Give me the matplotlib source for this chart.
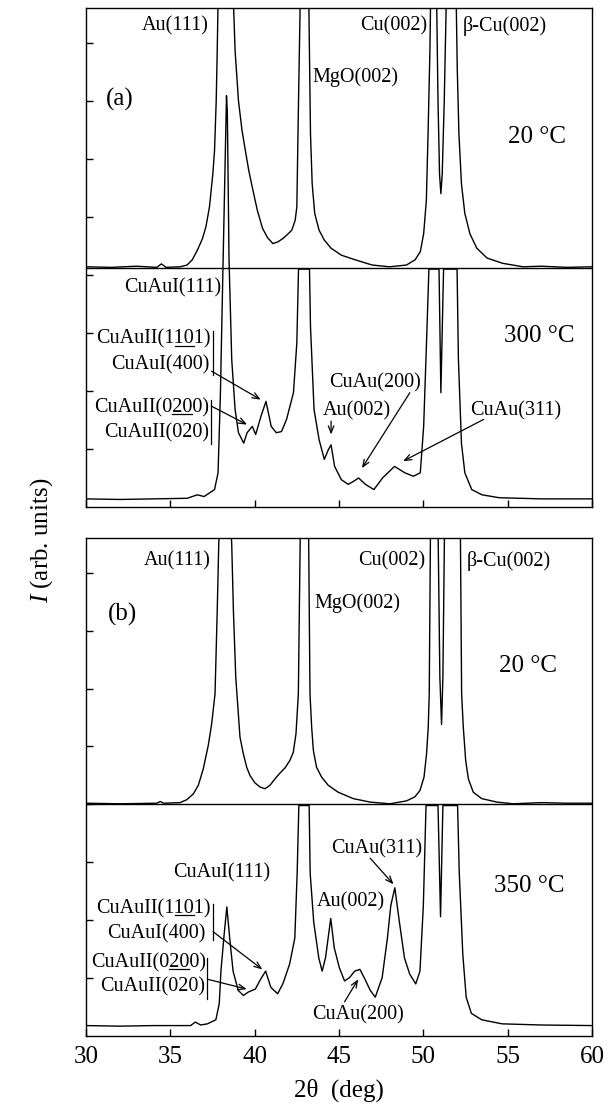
import numpy as np
import matplotlib
matplotlib.use('Agg')
import matplotlib.pyplot as plt
from matplotlib.textpath import TextToPath
from matplotlib.font_manager import FontProperties

# --- data (2theta in deg, intensity in tick units) ---
ang_a20 = [30.0, 31.5, 33.0, 34.2, 34.47, 34.75, 35.59, 35.99, 36.3, 36.61, 36.91, 37.11, 37.32, 37.52, 37.62,
           37.72, 37.78, 37.83, 38.0, 38.3, 38.6, 38.74, 38.84, 39.04, 39.25, 39.45, 39.65, 39.86, 40.16, 40.47,
           40.77, 41.08, 41.38, 41.69, 41.99, 42.2, 42.4, 42.5, 42.6, 42.7, 42.95, 43.21, 43.31, 43.41, 43.56,
           43.82, 44.13, 44.53, 45.14, 45.96, 46.97, 47.99, 49.0, 49.51, 49.82, 50.02, 50.18, 50.28, 50.39, 50.43,
           50.6, 50.79, 50.87, 50.96, 51.04, 51.12, 51.24, 51.36, 51.7, 51.95, 52.01, 52.11, 52.26, 52.46, 52.76,
           53.17, 53.78, 54.7, 55.91, 57.0, 58.5, 60.0]
int_a20 = [0.14, 0.13, 0.15, 0.13, 0.19, 0.13, 0.14, 0.17, 0.26, 0.43, 0.63, 0.83, 1.17, 1.74, 2.14,
           3.0, 3.86, 4.71, 6.5, 7.5, 6.0, 4.71, 3.86, 3.0, 2.49, 2.14, 1.80, 1.51, 1.11, 0.80,
           0.64, 0.54, 0.57, 0.63, 0.71, 0.77, 0.94, 1.17, 3.0, 4.71, 7.0, 4.71, 2.43, 1.57, 1.06,
           0.77, 0.60, 0.46, 0.34, 0.26, 0.17, 0.14, 0.17, 0.26, 0.40, 0.71, 1.29, 2.43, 3.86, 4.71,
           6.5, 4.71, 3.0, 1.74, 1.40, 1.74, 3.0, 4.71, 6.5, 4.71, 3.57, 2.43, 1.57, 1.06, 0.71,
           0.46, 0.29, 0.20, 0.14, 0.15, 0.13, 0.14]

ang_a300 = [30.0, 32.0, 34.0, 36.0, 36.6, 37.0, 37.62, 37.83, 37.97, 38.13, 38.33, 38.38, 38.48, 38.64, 38.84,
            39.04, 39.35, 39.55, 39.86, 40.06, 40.37, 40.67, 40.98, 41.28, 41.59, 41.89, 42.3, 42.5, 42.6, 43.25,
            43.31, 43.52, 43.82, 44.13, 44.37, 44.53, 44.74, 45.14, 45.55, 45.85, 46.16, 46.57, 47.07, 47.58, 48.29,
            48.9, 49.41, 49.82, 50.02, 50.22, 50.33, 50.93, 51.04, 51.2, 52.0, 52.08, 52.26, 52.46, 52.87, 53.48,
            54.5, 57.0, 60.0]
int_a300 = [0.14, 0.13, 0.14, 0.15, 0.21, 0.18, 0.30, 0.59, 1.97, 4.26, 7.09, 6.8, 4.26, 2.54, 1.68,
            1.28, 1.10, 1.28, 1.39, 1.25, 1.56, 1.82, 1.39, 1.28, 1.30, 1.51, 1.97, 2.83, 4.10, 4.10,
            3.11, 1.68, 1.16, 0.82, 0.99, 1.07, 0.70, 0.47, 0.39, 0.44, 0.50, 0.39, 0.30, 0.50, 0.70,
            0.59, 0.53, 0.59, 1.39, 3.11, 4.10, 4.10, 1.97, 4.10, 4.10, 2.54, 1.10, 0.59, 0.30, 0.21,
            0.16, 0.14, 0.14]

ang_b20 = [30.0, 32.0, 34.2, 34.4, 34.6, 35.57, 35.97, 36.36, 36.66, 36.95, 37.25, 37.45, 37.65, 37.78, 37.87,
           38.1, 38.4, 38.64, 38.74, 38.88, 39.13, 39.33, 39.53, 39.72, 40.02, 40.32, 40.61, 40.91, 41.2, 41.5,
           41.8, 42.09, 42.29, 42.45, 42.59, 42.7, 42.95, 43.2, 43.28, 43.38, 43.48, 43.67, 43.97, 44.36, 44.95,
           45.84, 46.83, 48.02, 49.0, 49.5, 49.8, 50.04, 50.19, 50.29, 50.35, 50.42, 50.6, 50.88, 50.98, 51.08,
           51.16, 51.25, 51.7, 52.2, 52.27, 52.37, 52.51, 52.67, 52.96, 53.46, 54.35, 55.33, 57.0, 58.5, 60.0]
int_b20 = [0.02, 0.01, 0.02, 0.05, 0.02, 0.03, 0.08, 0.18, 0.33, 0.61, 1.02, 1.39, 1.91, 3.34, 4.49,
           6.0, 6.0, 4.49, 3.34, 2.19, 1.16, 0.87, 0.64, 0.50, 0.37, 0.30, 0.27, 0.33, 0.44, 0.54,
           0.63, 0.76, 0.90, 1.22, 1.91, 4.6, 6.0, 4.6, 1.91, 1.33, 0.93, 0.64, 0.47, 0.33, 0.21,
           0.10, 0.04, 0.01, 0.06, 0.13, 0.24, 0.47, 0.87, 1.33, 1.91, 4.6, 6.0, 4.6, 2.2, 1.38,
           2.2, 4.6, 6.0, 4.6, 1.91, 1.33, 0.76, 0.44, 0.21, 0.10, 0.04, 0.01, 0.03, 0.02, 0.02]

ang_b350 = [30.0, 32.0, 34.0, 36.2, 36.48, 36.8, 37.2, 37.7, 37.9, 38.0, 38.17, 38.35, 38.52, 38.72, 39.02,
            39.33, 39.63, 40.04, 40.35, 40.65, 40.96, 41.36, 41.67, 42.07, 42.38, 42.52, 42.62, 43.23, 43.29, 43.5,
            43.8, 44.0, 44.2, 44.51, 44.72, 45.02, 45.33, 45.63, 45.93, 46.24, 46.54, 46.85, 47.15, 47.56, 47.87,
            48.07, 48.31, 48.58, 48.88, 49.19, 49.55, 49.8, 50.0, 50.16, 50.87, 51.02, 51.16, 52.03, 52.13, 52.34,
            52.54, 52.85, 53.46, 54.67, 57.0, 60.0]
int_b350 = [0.18, 0.17, 0.18, 0.18, 0.24, 0.19, 0.21, 0.28, 0.56, 1.12, 1.69, 2.23, 1.69, 1.12, 0.79,
            0.70, 0.76, 0.81, 0.98, 1.12, 0.84, 0.73, 0.90, 1.24, 1.69, 2.82, 3.98, 3.98, 2.82, 1.97,
            1.35, 1.12, 1.35, 2.03, 1.52, 1.18, 0.95, 1.01, 1.12, 1.15, 0.98, 0.79, 0.67, 1.01, 1.69,
            2.25, 2.56, 1.97, 1.35, 1.07, 0.90, 1.12, 2.25, 3.98, 3.98, 2.06, 3.98, 3.98, 2.82, 1.41,
            0.67, 0.39, 0.28, 0.21, 0.19, 0.18]

x_ticks = [30, 35, 40, 45, 50, 55, 60]

plt.rcParams['font.family'] = ['Liberation Serif', 'DejaVu Serif']
plt.rcParams['mathtext.fontset'] = 'custom'
plt.rcParams['mathtext.rm'] = 'Liberation Serif'
plt.rcParams['mathtext.it'] = 'Liberation Serif:italic'

FS = 14.5   # peak labels
FL = 18     # big labels
OFFSET = 4.0

fig = plt.figure(figsize=(6.16, 11.10), dpi=100)
ax_a = fig.add_axes([86/616, 1 - 507/1110, 506/616, 499/1110])
ax_b = fig.add_axes([86/616, 1 - 1036/1110, 506/616, 498/1110])

for ax in (ax_a, ax_b):
    ax.set_xlim(30, 60)
    ax.set_ylim(0, 8.6)
    ax.set_xticks(x_ticks)
    ax.set_yticks(range(1, 9))
    ax.set_yticklabels([])
    ax.tick_params(direction='in', length=5, width=1, labelsize=FL, pad=7)
    for sp in ax.spines.values():
        sp.set_linewidth(1)
ax_a.set_xticklabels([])

ax_a.plot(ang_a20, np.array(int_a20) + OFFSET, color='k', lw=1)
ax_a.plot(ang_a300, int_a300, color='k', lw=1)
ax_a.axhline(4.12, color='k', lw=1)

ax_b.plot(ang_b20, np.array(int_b20) + OFFSET, color='k', lw=1)
ax_b.plot(ang_b350, int_b350, color='k', lw=1)
ax_b.axhline(4.0, color='k', lw=1)

ttp = TextToPath()
prop = FontProperties(family=plt.rcParams['font.family'], size=FS)


def text_w(t):
    w, h, d = ttp.get_text_width_height_descent(t, prop, ismath=False)
    return w * fig.dpi / 72


def label(ax, x, y, s, ha='left', size=FS):
    ax.text(x, y, s, ha=ha, va='center', fontsize=size)


def underlined(ax, x, y, s, i0, i1, ha):
    # text with part of the indices underlined
    label(ax, x, y, s, ha)
    x0, y0 = ax.transData.transform((x, y))
    left = x0 if ha == 'left' else x0 - text_w(s)
    u0 = left + text_w(s[:i0])
    u1 = left + text_w(s[:i1])
    yu = y0 - 0.32 * FS * fig.dpi / 72
    inv = ax.transData.inverted()
    p0 = inv.transform((u0, yu))
    p1 = inv.transform((u1, yu))
    ax.plot([p0[0], p1[0]], [p0[1], p1[1]], color='k', lw=0.9)


def arrow(ax, tail, tip):
    ax.annotate('', xy=tip, xytext=tail,
                arrowprops=dict(arrowstyle='->,head_length=0.5,head_width=0.2',
                                lw=0.9, color='k', shrinkA=0, shrinkB=0))


def bar(ax, x, y0, y1):
    ax.plot([x, x], [y0, y1], color='k', lw=0.9)


# panel (a)
label(ax_a, 37.3, 8.29, 'Au(111)', 'right')
label(ax_a, 43.41, 7.4, 'MgO(002)')
label(ax_a, 50.22, 8.29, 'Cu(002)', 'right')
label(ax_a, 52.36, 8.29, 'β-Cu(002)')
label(ax_a, 31.2, 7.03, '(a)', size=FL)
label(ax_a, 55.0, 6.37, '20 °C', size=FL)
label(ax_a, 38.0, 3.78, 'CuAuI(111)', 'right')
label(ax_a, 54.8, 2.94, '300 °C', size=FL)
underlined(ax_a, 37.4, 2.89, 'CuAuII(1101)', 8, 10, 'right')
label(ax_a, 37.35, 2.45, 'CuAuI(400)', 'right')
bar(ax_a, 37.52, 2.28, 3.03)
arrow(ax_a, (37.45, 2.34), (40.36, 1.85))
underlined(ax_a, 37.3, 1.71, 'CuAuII(0200)', 8, 10, 'right')
label(ax_a, 37.3, 1.28, 'CuAuII(020)', 'right')
bar(ax_a, 37.42, 1.08, 1.85)
arrow(ax_a, (37.42, 1.74), (39.55, 1.42))
label(ax_a, 44.43, 2.14, 'CuAu(200)')
arrow(ax_a, (49.2, 1.97), (46.36, 0.67))
label(ax_a, 44.02, 1.65, 'Au(002)')
arrow(ax_a, (44.53, 1.48), (44.53, 1.25))
label(ax_a, 52.76, 1.65, 'CuAu(311)')
arrow(ax_a, (53.58, 1.51), (48.8, 0.79))

# panel (b)
label(ax_b, 37.42, 8.2, 'Au(111)', 'right')
label(ax_b, 50.12, 8.2, 'Cu(002)', 'right')
label(ax_b, 52.56, 8.2, 'β-Cu(002)')
label(ax_b, 43.52, 7.48, 'MgO(002)')
label(ax_b, 31.3, 7.28, '(b)', size=FL)
label(ax_b, 54.5, 6.39, '20 °C', size=FL)
label(ax_b, 44.51, 3.24, 'CuAu(311)')
arrow(ax_b, (46.85, 3.07), (48.23, 2.62))
label(ax_b, 35.16, 2.82, 'CuAuI(111)')
label(ax_b, 54.17, 2.59, '350 °C', size=FL)
label(ax_b, 43.7, 2.31, 'Au(002)')
underlined(ax_b, 37.4, 2.2, 'CuAuII(1101)', 8, 10, 'right')
label(ax_b, 37.09, 1.77, 'CuAuI(400)', 'right')
bar(ax_b, 37.54, 1.66, 2.28)
arrow(ax_b, (37.54, 1.8), (40.45, 1.15))
underlined(ax_b, 37.1, 1.27, 'CuAuII(0200)', 8, 10, 'right')
label(ax_b, 37.09, 0.84, 'CuAuII(020)', 'right')
bar(ax_b, 37.2, 0.64, 1.35)
arrow(ax_b, (37.2, 0.98), (39.53, 0.81))
label(ax_b, 43.39, 0.36, 'CuAu(200)')
arrow(ax_b, (45.33, 0.59), (46.14, 0.98))

ax_b.set_xlabel('2θ  (deg)', fontsize=FL, labelpad=8)
fig.text(0.068, 1 - 540/1110, r'$I$ (arb. units)', rotation=90, fontsize=FL,
         ha='center', va='center')

fig.savefig('out.png', dpi=100)
